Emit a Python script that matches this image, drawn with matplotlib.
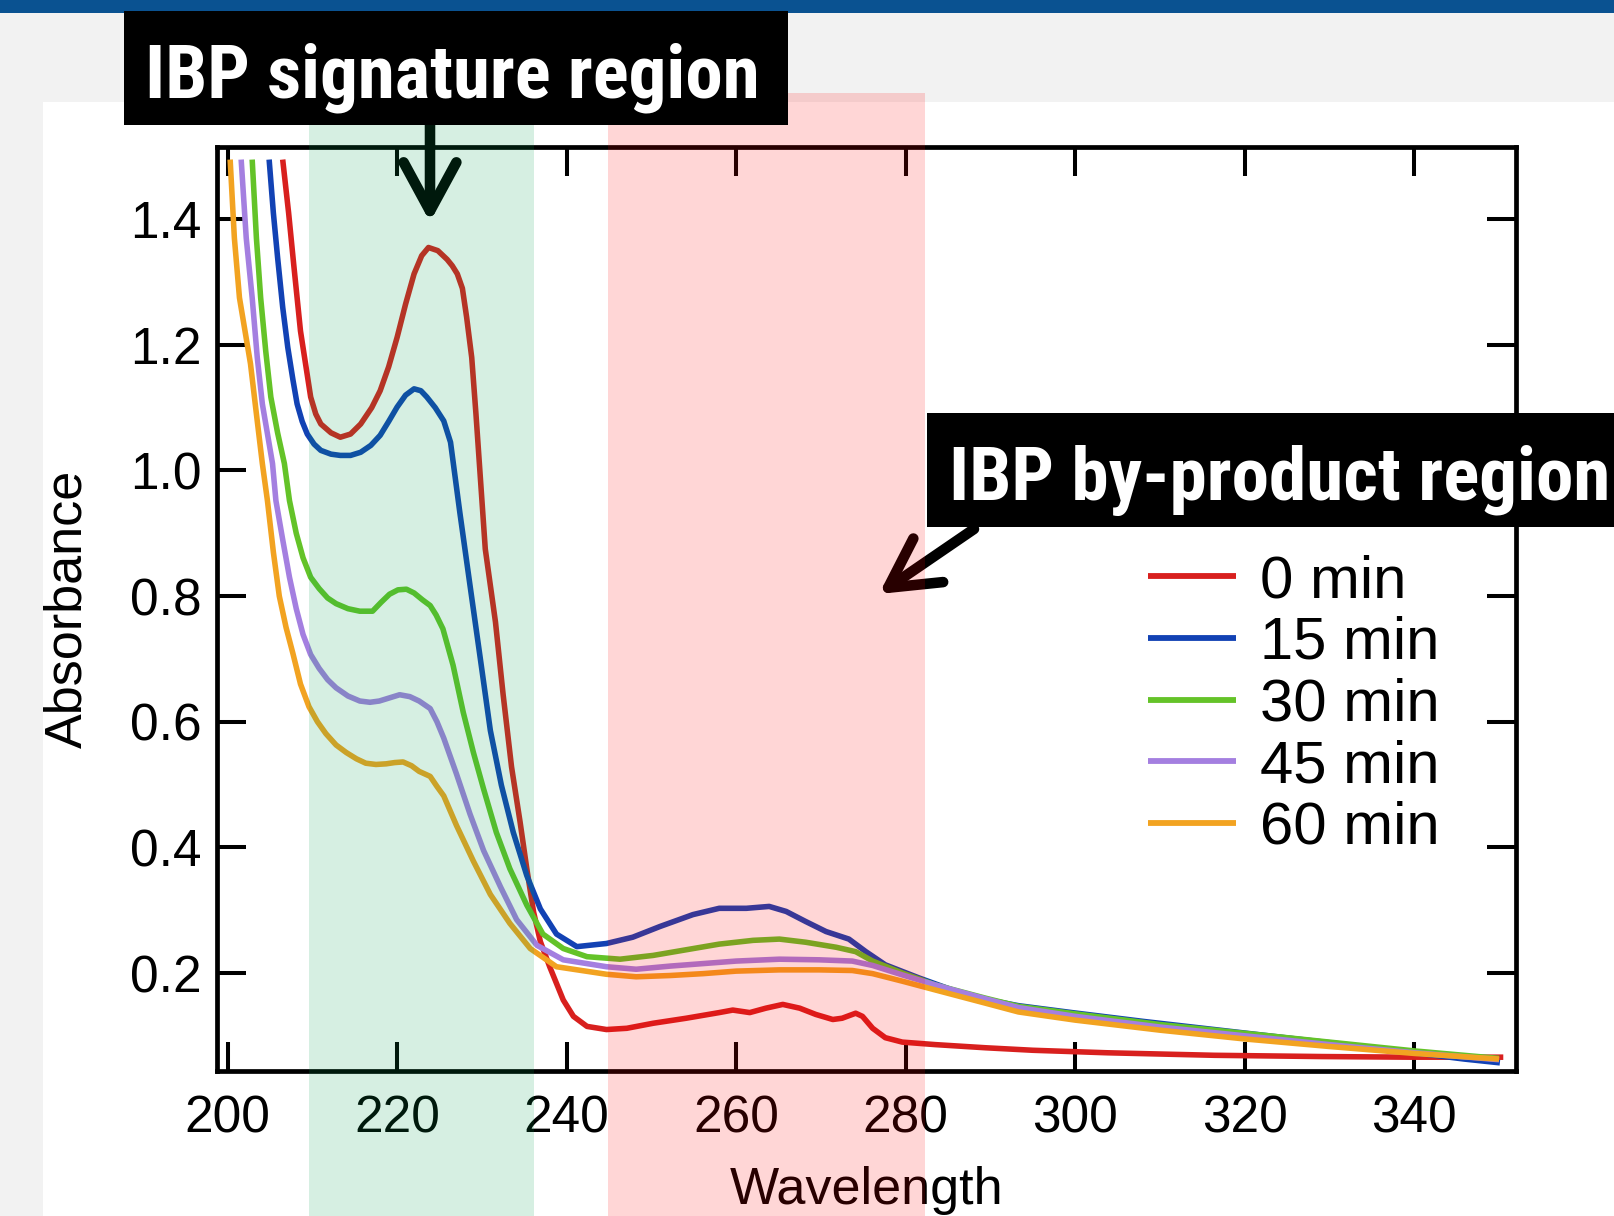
import matplotlib
matplotlib.use("Agg")
import matplotlib.pyplot as plt
from matplotlib import font_manager
from matplotlib.font_manager import FontProperties
from matplotlib.patches import Rectangle, FancyArrowPatch
from matplotlib.transforms import blended_transform_factory

# ---------------- data ----------------
wl_0 = [206.5, 207.2, 207.8, 208.6, 209.8, 210.4, 211.0, 212.2, 213.3, 214.5, 215.7, 217.0,
        218.0, 219.0, 220.0, 221.0, 222.0, 222.9, 223.7, 224.8, 225.9, 226.5, 227.1, 227.7,
        228.2, 228.8, 229.3, 230.4, 231.6, 232.5, 233.5, 234.5, 235.3, 236.1, 236.9, 238.0,
        239.6, 240.8, 242.4, 244.7, 247.1, 250.2, 254.1, 258.0, 259.6, 261.6, 263.5, 265.5,
        267.5, 269.4, 271.4, 272.5, 274.1, 274.9, 276.1, 277.6, 279.6, 283.5, 289.4, 295.0,
        303.8, 316.4, 329.1, 339.6, 350.5]
abs_0 = [1.495, 1.410, 1.328, 1.222, 1.117, 1.090, 1.074, 1.060, 1.053, 1.058, 1.074, 1.100,
         1.127, 1.165, 1.212, 1.265, 1.313, 1.342, 1.355, 1.350, 1.336, 1.326, 1.313, 1.290,
         1.244, 1.180, 1.090, 0.875, 0.759, 0.644, 0.528, 0.441, 0.366, 0.297, 0.250, 0.210,
         0.157, 0.131, 0.115, 0.110, 0.112, 0.120, 0.128, 0.137, 0.141, 0.137, 0.144, 0.150,
         0.144, 0.134, 0.126, 0.128, 0.136, 0.131, 0.112, 0.097, 0.090, 0.086, 0.081, 0.077,
         0.073, 0.069, 0.067, 0.066, 0.066]

wl_15 = [204.9, 205.4, 205.9, 206.5, 207.1, 207.7, 208.2, 208.8, 209.4, 210.2, 211.0, 212.2,
         213.3, 214.5, 215.7, 216.9, 218.0, 219.0, 220.0, 221.0, 222.0, 222.8, 223.5, 224.5,
         225.5, 226.3, 227.4, 228.6, 229.8, 231.0, 232.3, 233.7, 235.3, 236.9, 238.8, 241.2,
         244.7, 247.8, 251.0, 254.9, 258.0, 261.2, 263.9, 265.9, 268.2, 270.6, 273.3, 275.3,
         277.6, 281.6, 285.5, 289.4, 293.3, 299.6, 308.0, 316.4, 324.8, 333.3, 340.0, 345.9,
         350.1]
abs_15 = [1.495, 1.410, 1.339, 1.260, 1.196, 1.145, 1.106, 1.078, 1.058, 1.042, 1.032, 1.026,
          1.024, 1.024, 1.029, 1.040, 1.056, 1.078, 1.101, 1.120, 1.130, 1.127, 1.117, 1.100,
          1.079, 1.045, 0.933, 0.817, 0.702, 0.586, 0.499, 0.424, 0.355, 0.302, 0.262, 0.242,
          0.247, 0.257, 0.274, 0.293, 0.303, 0.303, 0.306, 0.298, 0.282, 0.266, 0.254, 0.234,
          0.213, 0.192, 0.173, 0.158, 0.148, 0.137, 0.123, 0.110, 0.097, 0.084, 0.073, 0.063,
          0.057]

wl_30 = [202.9, 203.4, 203.9, 204.5, 205.1, 205.9, 206.7, 207.3, 208.1, 208.9, 209.8, 210.8,
         211.8, 212.8, 214.2, 215.6, 217.1, 218.1, 219.1, 220.1, 221.1, 222.0, 223.0, 223.9,
         224.6, 225.4, 226.6, 227.8, 229.0, 230.2, 231.7, 233.3, 235.3, 237.2, 239.6, 242.4,
         246.3, 250.2, 254.1, 258.0, 262.0, 265.1, 268.2, 271.8, 274.1, 276.1, 279.6, 283.5,
         289.4, 293.3, 300.0, 310.0, 320.0, 330.0, 340.0, 350.0]
abs_30 = [1.495, 1.370, 1.275, 1.190, 1.117, 1.060, 1.011, 0.952, 0.900, 0.861, 0.830, 0.812,
          0.797, 0.788, 0.780, 0.776, 0.776, 0.790, 0.803, 0.810, 0.811, 0.805, 0.794, 0.785,
          0.770, 0.748, 0.690, 0.615, 0.551, 0.493, 0.424, 0.366, 0.308, 0.262, 0.239, 0.226,
          0.222, 0.228, 0.237, 0.246, 0.252, 0.254, 0.249, 0.241, 0.234, 0.219, 0.200, 0.181,
          0.160, 0.147, 0.135, 0.118, 0.104, 0.090, 0.076, 0.064]

wl_45 = [201.6, 202.2, 202.9, 203.5, 204.1, 205.3, 205.7, 206.5, 207.3, 208.1, 208.9, 209.8,
         210.8, 211.8, 212.8, 214.2, 215.6, 216.8, 217.9, 219.1, 220.3, 221.5, 222.6, 223.9,
         224.7, 225.5, 227.0, 228.6, 230.2, 232.2, 234.1, 236.5, 239.6, 244.7, 248.2, 252.2,
         256.1, 260.0, 265.1, 269.8, 273.7, 276.1, 279.6, 283.5, 289.4, 293.3, 300.0, 310.0,
         320.0, 330.0, 340.0, 350.0]
abs_45 = [1.495, 1.370, 1.275, 1.180, 1.106, 1.011, 0.952, 0.890, 0.830, 0.780, 0.739, 0.707,
          0.685, 0.667, 0.654, 0.641, 0.633, 0.631, 0.633, 0.638, 0.643, 0.640, 0.633, 0.621,
          0.600, 0.574, 0.517, 0.453, 0.395, 0.337, 0.285, 0.244, 0.221, 0.210, 0.206, 0.211,
          0.215, 0.219, 0.222, 0.221, 0.219, 0.212, 0.197, 0.181, 0.159, 0.145, 0.131, 0.114,
          0.100, 0.086, 0.073, 0.062]

wl_60 = [200.3, 200.8, 201.4, 202.7, 203.4, 204.1, 204.7, 205.4, 206.1, 206.9, 207.7, 208.6,
         209.6, 210.6, 211.6, 212.8, 214.0, 215.2, 216.3, 217.5, 218.7, 219.7, 220.7, 221.7,
         222.6, 223.9, 224.7, 225.5, 227.0, 229.0, 231.0, 233.3, 235.7, 238.8, 244.7, 248.2,
         252.2, 256.1, 260.0, 265.1, 269.8, 273.7, 276.1, 279.6, 283.5, 289.4, 293.3, 300.0,
         310.0, 320.0, 330.0, 340.0, 350.0]
abs_60 = [1.495, 1.370, 1.275, 1.170, 1.090, 1.011, 0.952, 0.870, 0.800, 0.750, 0.709, 0.660,
          0.624, 0.600, 0.581, 0.563, 0.551, 0.541, 0.534, 0.532, 0.533, 0.535, 0.536, 0.530,
          0.521, 0.513, 0.497, 0.482, 0.435, 0.378, 0.325, 0.279, 0.239, 0.210, 0.198, 0.194,
          0.196, 0.199, 0.203, 0.205, 0.205, 0.204, 0.199, 0.187, 0.173, 0.152, 0.138, 0.125,
          0.109, 0.095, 0.083, 0.072, 0.063]

series_labels = ["0 min", "15 min", "30 min", "45 min", "60 min"]
series_colors = ["#D8201E", "#1242B4", "#64C328", "#A47FE0", "#F2A321"]

x_ticks = [200, 220, 240, 260, 280, 300, 320, 340]
y_ticks = [0.2, 0.4, 0.6, 0.8, 1.0, 1.2, 1.4]

signature_band = (209.6, 236.2)
byproduct_band = (244.9, 282.3)

# ---------------- figure ----------------
W, H, DPI = 1615, 1216, 100
plt.rcParams["font.family"] = ["Liberation Sans", "DejaVu Sans"]


def fx(x):
    return x / W


def fy(y):
    return 1 - y / H


fig = plt.figure(figsize=(W / DPI, H / DPI), dpi=DPI, facecolor="#F2F2F2")

# page decoration
fig.add_artist(Rectangle((0, fy(13)), 1, 13 / H, transform=fig.transFigure,
                         facecolor="#0A5291", edgecolor="none", zorder=-10))
fig.add_artist(Rectangle((fx(43), 0), 1 - fx(43), fy(102), transform=fig.transFigure,
                         facecolor="white", edgecolor="none", zorder=-10))

ax = fig.add_axes([fx(217), fy(1071), 1299 / W, 924 / H])
ax.set_facecolor("white")

series = [(wl_0, abs_0), (wl_15, abs_15), (wl_30, abs_30), (wl_45, abs_45), (wl_60, abs_60)]
for (xs, ys), lab, col in zip(series, series_labels, series_colors):
    ax.plot(xs, ys, color=col, lw=4.0, label=lab, solid_capstyle="butt",
            solid_joinstyle="round")

ax.set_xlim(198.75, 352.0)
ax.set_ylim(0.044, 1.515)
ax.set_xticks(x_ticks)
ax.set_yticks(y_ticks)
ax.set_xticklabels([str(v) for v in x_ticks])
ax.set_yticklabels([f"{v:.1f}" for v in y_ticks])
ax.tick_params(direction="in", length=21, width=2.9, top=True, right=True,
               labelsize=37, colors="black")
ax.tick_params(axis="x", pad=17)
ax.tick_params(axis="y", pad=11)
for sp in ax.spines.values():
    sp.set_linewidth(3.4)

ax.set_xlabel("Wavelength", fontsize=37.5)
ax.xaxis.label.set_va("baseline")
ax.xaxis.set_label_coords(0.5, (1071 - 1204) / 924)
ax.set_ylabel("Absorbance", fontsize=37.5)
ax.yaxis.set_label_coords(-0.096, 0.5)

leg = ax.legend(loc="center left", bbox_to_anchor=(fx(1148), fy(705)),
                bbox_transform=fig.transFigure, frameon=False, fontsize=43,
                handlelength=1.48, handletextpad=0.39, labelspacing=0.11,
                borderpad=0, borderaxespad=0)
for h in leg.get_lines():
    h.set_linewidth(4.2)

# arrows (under the translucent bands)
for (x0, y0), (x1, y1) in [((430, 118), (430, 222)), ((974, 529), (879, 594))]:
    fig.add_artist(FancyArrowPatch((fx(x0), fy(y0)), (fx(x1), fy(y1)),
                                   transform=fig.transFigure,
                                   arrowstyle="->,head_length=35,head_width=19",
                                   mutation_scale=1, lw=7.6, color="black",
                                   capstyle="round", joinstyle="round",
                                   shrinkA=0, shrinkB=0, zorder=3))

# translucent highlight bands
trans = blended_transform_factory(ax.transData, fig.transFigure)
for (lo, hi), col in [(signature_band, (0.0, 0.63, 0.31)), (byproduct_band, (1.0, 0.0, 0.0))]:
    fig.add_artist(Rectangle((lo, 0), hi - lo, fy(93), transform=trans, facecolor=col,
                             alpha=0.16, edgecolor="none", zorder=5, clip_on=False))


# label boxes
def pick_narrow_bold():
    prefs = [("Liberation Sans Narrow", None), ("Roboto Condensed", None),
             ("Open Sans Condensed", None), ("DejaVu Sans", "condensed")]
    for name, stretch in prefs:
        for f in font_manager.fontManager.ttflist:
            if f.name != name:
                continue
            w = f.weight if isinstance(f.weight, int) else (700 if "bold" in str(f.weight) else 400)
            if w < 600 or f.style != "normal":
                continue
            if stretch and f.stretch != stretch:
                continue
            return f.fname
    return None


narrow = pick_narrow_bold()
boxes = [("IBP signature region", (124, 11, 788, 125), 452, 97, 616),
         ("IBP by-product region", (927, 413, 1615, 527), 1280, 500, 662)]
renderer = fig.canvas.get_renderer()
for text, (l, t, r, b), cx, base, target_w in boxes:
    fig.add_artist(Rectangle((fx(l), fy(b)), (r - l) / W, (b - t) / H,
                             transform=fig.transFigure, facecolor="black",
                             edgecolor="none", zorder=10))
    if narrow:
        fp = FontProperties(fname=narrow, size=55)
    else:
        fp = FontProperties(family="Liberation Sans", weight="bold", size=45)
    txt = fig.text(fx(cx), fy(base), text, color="white", fontproperties=fp,
                   ha="center", va="baseline", zorder=11)
    wpx = txt.get_window_extent(renderer).width
    txt.set_fontsize(fp.get_size() * target_w / wpx)

fig.savefig("out.png", dpi=DPI, facecolor=fig.get_facecolor())
